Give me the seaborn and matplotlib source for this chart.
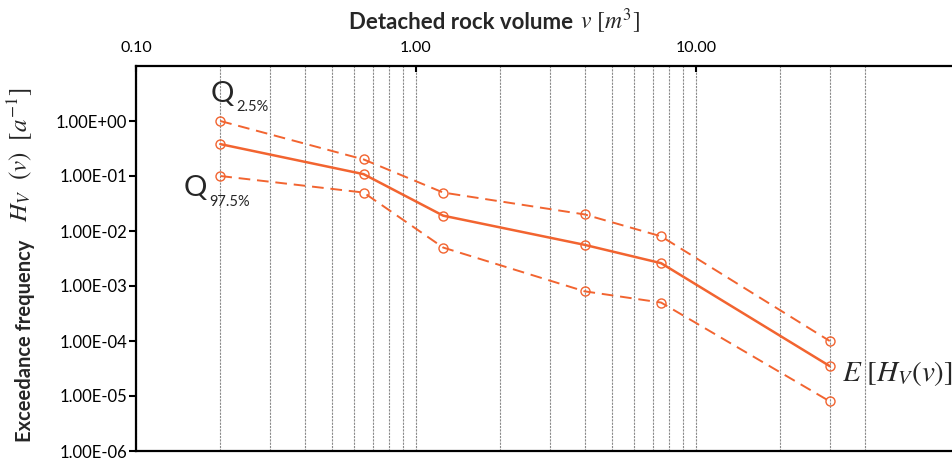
import matplotlib
matplotlib.use("Agg")
import matplotlib.pyplot as plt
import matplotlib.ticker as mticker
import pandas as pd
import seaborn as sns

# valores (volume em m3, frequência em 1/ano)
volume = [0.2, 0.65, 1.25, 4.0, 7.5, 30.0]
freq_q025 = [1.0, 0.2, 0.05, 0.02, 0.008, 1.0e-4]
freq_media = [0.38, 0.108, 0.019, 0.0056, 0.0026, 3.5e-5]
freq_q975 = [0.1, 0.05, 0.005, 0.0008, 0.0005, 8.0e-6]

x_ticks = [0.1, 1.0, 10.0]
x_tick_labels = ["0.10", "1.00", "10.00"]
x_grid = [0.2, 0.3, 0.4, 0.5, 0.6, 0.7, 0.8, 0.9, 1.0,
          2, 3, 4, 5, 6, 7, 8, 9, 10, 20, 30, 40]
y_ticks = [1e0, 1e-1, 1e-2, 1e-3, 1e-4, 1e-5, 1e-6]

COR = "#F26430"
W, H = 952, 458


def px(x, y):
    """converte pixel da imagem para fração da figura"""
    return x / W, 1 - y / H


def configurar_estilo():
    sns.set_theme(style="white")
    plt.rcParams["font.family"] = ["Lato", "DejaVu Sans"]
    plt.rcParams["mathtext.fontset"] = "stix"
    plt.rcParams["axes.edgecolor"] = "black"


configurar_estilo()
fig = plt.figure(figsize=(W / 100, H / 100), dpi=100)
ax = fig.add_axes([136 / W, 1 - 451 / H, (W - 136) / W, (451 - 66) / H])

df = pd.DataFrame({"volume": volume, "q025": freq_q025,
                   "media": freq_media, "q975": freq_q975})

estilo = dict(color=COR, marker="o", markersize=6.5, markerfacecolor="none",
              markeredgecolor=COR, markeredgewidth=1.0)
sns.lineplot(data=df, x="volume", y="q025", ax=ax, linewidth=1.4,
             linestyle=(0, (6, 3.5)), **estilo)
sns.lineplot(data=df, x="volume", y="media", ax=ax, linewidth=1.8, **estilo)
sns.lineplot(data=df, x="volume", y="q975", ax=ax, linewidth=1.4,
             linestyle=(0, (6, 3.5)), **estilo)

ax.set_xscale("log")
ax.set_yscale("log")
ax.set_xlim(0.1, 82)
ax.set_ylim(1e-6, 10)

# eixo x no topo
ax.xaxis.tick_top()
ax.set_xticks(x_ticks)
ax.set_xticklabels(x_tick_labels)
ax.xaxis.set_minor_locator(mticker.FixedLocator(x_grid))
ax.xaxis.set_minor_formatter(mticker.NullFormatter())
ax.tick_params(axis="x", which="major", direction="in", length=4, width=1.5,
               pad=8, labelsize=11.5, colors="black")
ax.tick_params(axis="x", which="minor", length=0)
ax.grid(False)
ax.grid(True, which="both", axis="x", color="#8a8a8a", linewidth=0.8,
        linestyle=(0, (2, 1)))

ax.set_yticks(y_ticks)
ax.yaxis.set_major_formatter(mticker.FuncFormatter(lambda v, p: f"{v:.2E}"))
ax.yaxis.set_minor_locator(mticker.NullLocator())
ax.tick_params(axis="y", which="major", direction="out", length=5, width=1.5,
               pad=1.5, labelsize=12, colors="black", left=True)

for lado in ["left", "top", "bottom"]:
    ax.spines[lado].set_linewidth(1.6)
    ax.spines[lado].set_color("black")
ax.spines["right"].set_visible(False)

ax.set_xlabel("")
ax.set_ylabel("")

fig.text(*px(349, 29), "Detached rock volume", fontsize=16,
         fontweight="bold", ha="left", va="baseline")
fig.text(*px(580, 29), r"$v\ [m^3]$", fontsize=17, ha="left", va="baseline")
fig.text(*px(35, 442), "Exceedance frequency", fontsize=14.5,
         fontweight="bold", rotation=90, ha="right", va="bottom")
fig.text(*px(35, 222), r"$H_V\ \ (v)\ \ [a^{-1}]$", fontsize=18,
         rotation=90, ha="right", va="bottom")

# rótulos dos quantis e da média
fig.text(*px(211, 102), "Q", fontsize=21, ha="left", va="baseline")
fig.text(*px(236, 111), "2.5%", fontsize=10.5, ha="left", va="baseline")
fig.text(*px(184, 196), "Q", fontsize=21, ha="left", va="baseline")
fig.text(*px(209, 206), "97.5%", fontsize=10.5, ha="left", va="baseline")
fig.text(*px(842, 381), r"$E\ [H_V(v)]$", fontsize=21, ha="left",
         va="baseline")

fig.savefig("out.png", dpi=100)
plt.close(fig)
